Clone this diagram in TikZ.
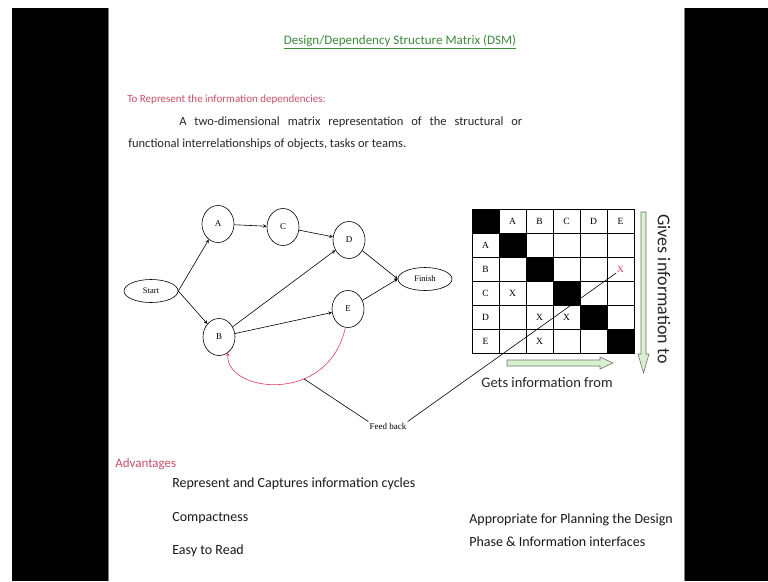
\documentclass[tikz,border=0pt]{standalone}
\usepackage{fontspec}
\setmainfont{Carlito}
\newfontfamily\timesfont{Liberation Serif}
\usetikzlibrary{shapes.geometric}
\definecolor{titlegreen}{RGB}{60,140,60}
\definecolor{headred}{RGB}{200,80,105}
\definecolor{feedred}{RGB}{222,60,90}
\definecolor{arrowgreen}{RGB}{215,240,205}
\tikzset{
	task/.style = {draw, ellipse, minimum width = 32pt, minimum height = 37pt, inner sep = 0pt, font = \timesfont\fontsize{9}{10}\selectfont},
	endpoint/.style = {draw, ellipse, minimum width = 54pt, minimum height = 23pt, inner sep = 0pt, font = \timesfont\fontsize{8.5}{9}\selectfont},
	cellbox/.style = {draw, minimum width = 27pt, minimum height = 24pt, inner sep = 0pt},
	celltext/.style = {inner sep = 0.5pt, font = \timesfont\fontsize{9.5}{10}\selectfont},
	slidetext/.style = {anchor = west, inner sep = 0pt, font = \fontsize{12.5}{14}\selectfont, text = black!85},
	pointtext/.style = {anchor = west, inner sep = 0pt, font = \fontsize{14}{16}\selectfont, text = black!90},
	hollowarrow/.style = {draw = black!55, fill = arrowgreen, line width = 0.6pt}
}
\begin{document}
\begin{tikzpicture}[x = 1pt, y = -1pt, line width = 0.6pt]
	\useasboundingbox ( 0, 0 ) rectangle ( 768, 581 );
	\fill[white] ( 0, 0 ) rectangle ( 768, 581 );
	\fill[black] ( 12, 8 ) rectangle ( 108, 581 );
	\fill[black] ( 685, 8 ) rectangle ( 768, 581 );
	\draw[gray, line width = 1pt] ( 108.5, 8 ) -- ( 108.5, 581 );
	\draw[gray, line width = 1pt] ( 684.5, 8 ) -- ( 684.5, 581 );

	% heading and definition
	\node (title) at ( 400, 42 ) [font = \fontsize{13}{15}\selectfont, text = titlegreen] {\underline{Design/Dependency Structure Matrix (DSM)}};
	\node (purpose) at ( 127, 100 ) [slidetext, text = headred, font = \fontsize{11}{13}\selectfont] {To Represent the information dependencies:};
	\node (defone) at ( 179, 122 ) [slidetext] {\makebox[343pt][s]{A two-dimensional matrix representation of the structural or}};
	\node (deftwo) at ( 128, 144 ) [slidetext] {functional interrelationships of objects, tasks or teams.};

	% task network
	\node (start) at ( 151, 291 ) [endpoint] {Start};
	\node (A) at ( 218, 224 ) [task] {A};
	\node (C) at ( 283, 227 ) [task] {C};
	\node (D) at ( 349, 240 ) [task] {D};
	\node (B) at ( 219, 337 ) [task] {B};
	\node (E) at ( 348, 309 ) [task] {E};
	\node (finish) at ( 425, 279 ) [endpoint] {Finish};
	\draw[->, > = stealth] (start.east) -- (A);
	\draw[->, > = stealth] (start.east) -- (B);
	\draw[->, > = stealth] (A) -- (C);
	\draw[->, > = stealth] (C) -- (D);
	\draw[->, > = stealth] (B) -- (D);
	\draw[->, > = stealth] (B) -- (E);
	\draw[->, > = stealth] (D) -- (finish.west);
	\draw[->, > = stealth] (E) -- (finish.west);
	\draw[->, > = stealth, feedred] (E.262) .. controls ( 328, 406 ) and ( 225, 392 ) .. (B.300) node [pos = 0.35, coordinate] (arcpt) {};

	% feedback label
	\node (feedback) at ( 388, 426 ) [font = \timesfont\fontsize{9}{10}\selectfont, inner sep = 1pt] {Feed back};

	% matrix
	\foreach \r in {0,...,5} {
		\foreach \c in {0,...,5} {
			\node (m\r\c) at ( {485.5 + 27*\c}, {221 + 24*\r} ) [cellbox] {};
		}
	}
	\foreach \i in {0,...,5}
		\fill (m\i\i.north west) rectangle (m\i\i.south east);
	\foreach \lbl [count = \i] in {A, B, C, D, E} {
		\node at (m0\i) [celltext] {\lbl};
		\node at (m\i0) [celltext] {\lbl};
	}
	\node at (m31) [celltext] {X};
	\node at (m42) [celltext] {X};
	\node at (m43) [celltext] {X};
	\node at (m52) [celltext] {X};
	\node (redx) at (m25) [celltext, text = feedred] {X};
	\draw (arcpt) -- (feedback.north west);
	\draw (feedback.north east) -- (redx.south west);

	% reading directions
	\draw[hollowarrow] ( 507, 360 ) -- ( 600, 360 ) -- ( 600, 357 ) -- ( 613, 363 ) -- ( 600, 369 ) -- ( 600, 366 ) -- ( 507, 366 ) -- cycle;
	\draw[hollowarrow] ( 641, 212 ) -- ( 641, 354 ) -- ( 638, 354 ) -- ( 643.5, 373 ) -- ( 649, 354 ) -- ( 646, 354 ) -- ( 646, 212 ) -- cycle;
	\node (gets) at ( 547, 383 ) [font = \fontsize{14.5}{16}\selectfont, text = black!85] {Gets information from};
	\node (gives) at ( 664, 289 ) [rotate = -90, font = \fontsize{18}{20}\selectfont, text = black!85] {Gives information to};

	% advantages
	\node (adv) at ( 115, 464 ) [slidetext, text = headred, font = \fontsize{13}{15}\selectfont] {Advantages};
	\node (advone) at ( 172, 484 ) [pointtext] {Represent and Captures information cycles};
	\node (advtwo) at ( 172, 518 ) [pointtext] {Compactness};
	\node (advthree) at ( 172, 551 ) [pointtext] {Easy to Read};
	\node (planone) at ( 469, 520 ) [pointtext] {Appropriate for Planning the Design};
	\node (plantwo) at ( 469, 542 ) [pointtext] {Phase \& Information interfaces};
\end{tikzpicture}
\end{document}
